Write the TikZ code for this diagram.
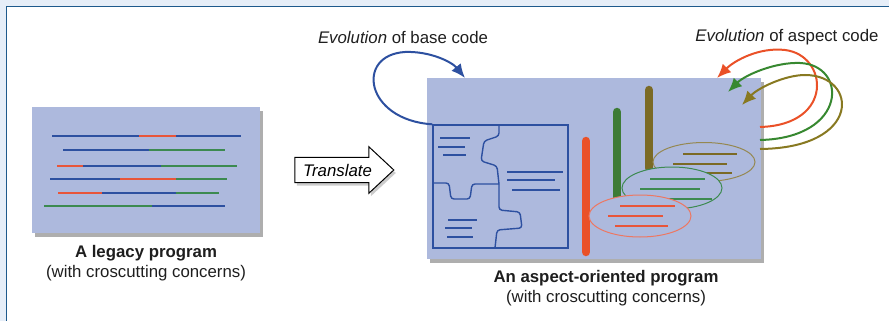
\documentclass[tikz,border=0pt]{standalone}
\usepackage{fontspec}
\setmainfont{Liberation Sans}
\usetikzlibrary{arrows.meta}
\usetikzlibrary{shapes.arrows}
\usetikzlibrary{shapes.geometric}
\usetikzlibrary{shadows}
\usetikzlibrary{positioning}
\definecolor{framelight}{HTML}{E6EEF8}
\definecolor{frameline}{HTML}{1E5A8C}
\definecolor{boxfill}{HTML}{ADB9DD}
\definecolor{codeblue}{HTML}{2D50A0}
\definecolor{codered}{HTML}{E8553A}
\definecolor{codegreen}{HTML}{3C8A50}
\definecolor{aspred}{HTML}{EA5128}
\definecolor{aspgreen}{HTML}{3D7B35}
\definecolor{aspolive}{HTML}{7B6A25}
\definecolor{textgray}{HTML}{1E1E1E}

\begin{document}
\begin{tikzpicture}[x=1pt,y=-1pt,>={Latex[length=14pt,width=12pt]},
    prog box/.style={draw=none,fill=boxfill,inner sep=0pt,
      drop shadow={shadow xshift=3pt,shadow yshift=-4pt,opacity=.45,fill=black!70}},
    code line/.style={line width=2.4pt},
    piece/.style={draw=codeblue,line width=1.4pt,rounded corners=3pt},
    piece line/.style={codeblue,line width=1.8pt},
    aspect bar/.style={line width=8.5pt,line cap=round},
    aspect cloud/.style={ellipse,fill=boxfill,line width=1pt,inner sep=0pt},
    aspect line/.style={line width=2pt},
    evo arrow/.style={->,line width=2pt},
    cap title/.style={font=\fontsize{16.8}{19}\selectfont\bfseries,text=textgray},
    cap note/.style={font=\fontsize{16.8}{19}\selectfont,text=textgray},
    evo text/.style={font=\fontsize{16.8}{19}\selectfont,text=textgray}]
   \useasboundingbox (0,0) rectangle (889,321);
   % frame
   \fill[framelight] (0,0) rectangle (889,6);
   \fill[framelight] (0,0) rectangle (6,321);
   \draw[frameline,line width=1.5pt] (6.5,321) -- (6.5,6.5) -- (889,6.5);

   % the legacy program
   \node[prog box,minimum width=228,minimum height=126] (legacy) at (146,170) {};
   \draw[code line,codeblue]  (52,136) -- (139,136);
   \draw[code line,codered]   (139,136) -- (176,136);
   \draw[code line,codeblue]  (176,136) -- (241,136);
   \draw[code line,codeblue]  (63,150) -- (149,150);
   \draw[code line,codegreen] (149,150) -- (225,150);
   \draw[code line,codered]   (57,166) -- (83,166);
   \draw[code line,codeblue]  (83,166) -- (161,166);
   \draw[code line,codegreen] (161,166) -- (237,166);
   \draw[code line,codeblue]  (50,179) -- (120,179);
   \draw[code line,codered]   (120,179) -- (176,179);
   \draw[code line,codegreen] (176,179) -- (227,179);
   \draw[code line,codered]   (58,193) -- (102,193);
   \draw[code line,codeblue]  (102,193) -- (176,193);
   \draw[code line,codegreen] (176,193) -- (219,193);
   \draw[code line,codegreen] (44,206) -- (152,206);
   \draw[code line,codeblue]  (152,206) -- (225,206);
   \node[cap title] (legacytitle) at (146,253) {A legacy program};
   \node[cap note,below=-3pt of legacytitle] (legacynote) {(with croscutting concerns)};

   % translate
   \node[single arrow,draw=black,fill=white,line width=1pt,
     minimum height=99,minimum width=45,single arrow head extend=10.5,
     single arrow tip angle=86,inner ysep=6,inner xsep=3,
     font=\fontsize{16.8}{19}\selectfont\itshape,
     drop shadow={shadow xshift=2pt,shadow yshift=-3pt,opacity=.4}] (translate) at (337.5,170) {Translate};

   % the aspect-oriented program
   \node[prog box,minimum width=334,minimum height=181] (aop) at (594,168.5) {};
   \node[draw=codeblue,line width=1.4pt,minimum width=135,minimum height=123,inner sep=0pt] (puzzle) at (500.5,186.5) {};
   \draw[piece] (499,125) -- (499,136) -- (484,141) -- (481,161) -- (497,166) -- (499,184);
   \draw[piece] (433,183) -- (449,183) -- (451,199) -- (470,199) -- (472,184) -- (499,184);
   \draw[piece] (499,184) -- (499,210) -- (520,212) -- (522,228) -- (497,230) -- (495,248);
   \draw[piece line] (440,138) -- (470,138);
   \draw[piece line] (438,147) -- (465,147);
   \draw[piece line] (443,155) -- (466,155);
   \draw[piece line] (507,172) -- (563,172);
   \draw[piece line] (507,180) -- (555,180);
   \draw[piece line] (512,190) -- (560,190);
   \draw[piece line] (448,220) -- (477,220);
   \draw[piece line] (445,228) -- (472,228);
   \draw[piece line] (447,237) -- (473,237);

   % aspects
   \draw[aspect bar,aspolive] (649,168) -- (649,90);
   \draw[aspect bar,aspgreen] (617,197) -- (617,112);
   \draw[aspect bar,aspred]   (586,252) -- (586,141);
   \node[aspect cloud,draw=aspolive!80!white,minimum width=102,minimum height=39] (olivecloud) at (704,162) {};
   \draw[aspect line,aspolive] (683,154) -- (737,154);
   \draw[aspect line,aspolive] (673,164) -- (727,164);
   \draw[aspect line,aspolive] (697,173) -- (732,173);
   \node[aspect cloud,draw=codegreen,minimum width=100,minimum height=42] (greencloud) at (672,188) {};
   \draw[aspect line,codegreen] (650,179) -- (705,179);
   \draw[aspect line,codegreen] (640,189) -- (700,189);
   \draw[aspect line,codegreen] (662,199) -- (712,199);
   \node[aspect cloud,draw=codered!80!white,minimum width=102,minimum height=42] (redcloud) at (640,216) {};
   \draw[aspect line,codered] (620,206) -- (675,206);
   \draw[aspect line,codered] (608,216) -- (663,216);
   \draw[aspect line,codered] (615,226) -- (668,226);
   \node[cap title] (aoptitle) at (606,278) {An aspect-oriented program};
   \node[cap note,below=-3pt of aoptitle] (aopnote) {(with croscutting concerns)};

   % evolution
   \node[evo text] (basetext) at (403,37) {\textit{Evolution} of base code};
   \node[evo text] (aspecttext) at (787,37) {\textit{Evolution} of aspect code};
   \coordinate (basetip) at (465,78);
   \draw[evo arrow,codeblue] (puzzle.north west) .. controls (365,120) and (355,55) .. (405,52)
      .. controls (430,51) and (452,62) .. (basetip);
   \coordinate (redfrom) at (760,127);
   \coordinate (greenfrom) at (760,140);
   \coordinate (olivefrom) at (760,149);
   \coordinate (redtip) at (717,78);
   \coordinate (greentip) at (728,92);
   \coordinate (olivetip) at (742,105);
   \draw[evo arrow,aspred] (redfrom) .. controls (835,125) and (828,55) .. (785,50)
      .. controls (760,47) and (735,60) .. (redtip);
   \draw[evo arrow,aspgreen!90!green] (greenfrom) .. controls (848,138) and (848,65) .. (800,63)
      .. controls (775,62) and (745,75) .. (greentip);
   \draw[evo arrow,aspolive!90!yellow] (olivefrom) .. controls (863,148) and (858,75) .. (805,75)
      .. controls (785,75) and (758,88) .. (olivetip);
  \end{tikzpicture}
\end{document}
